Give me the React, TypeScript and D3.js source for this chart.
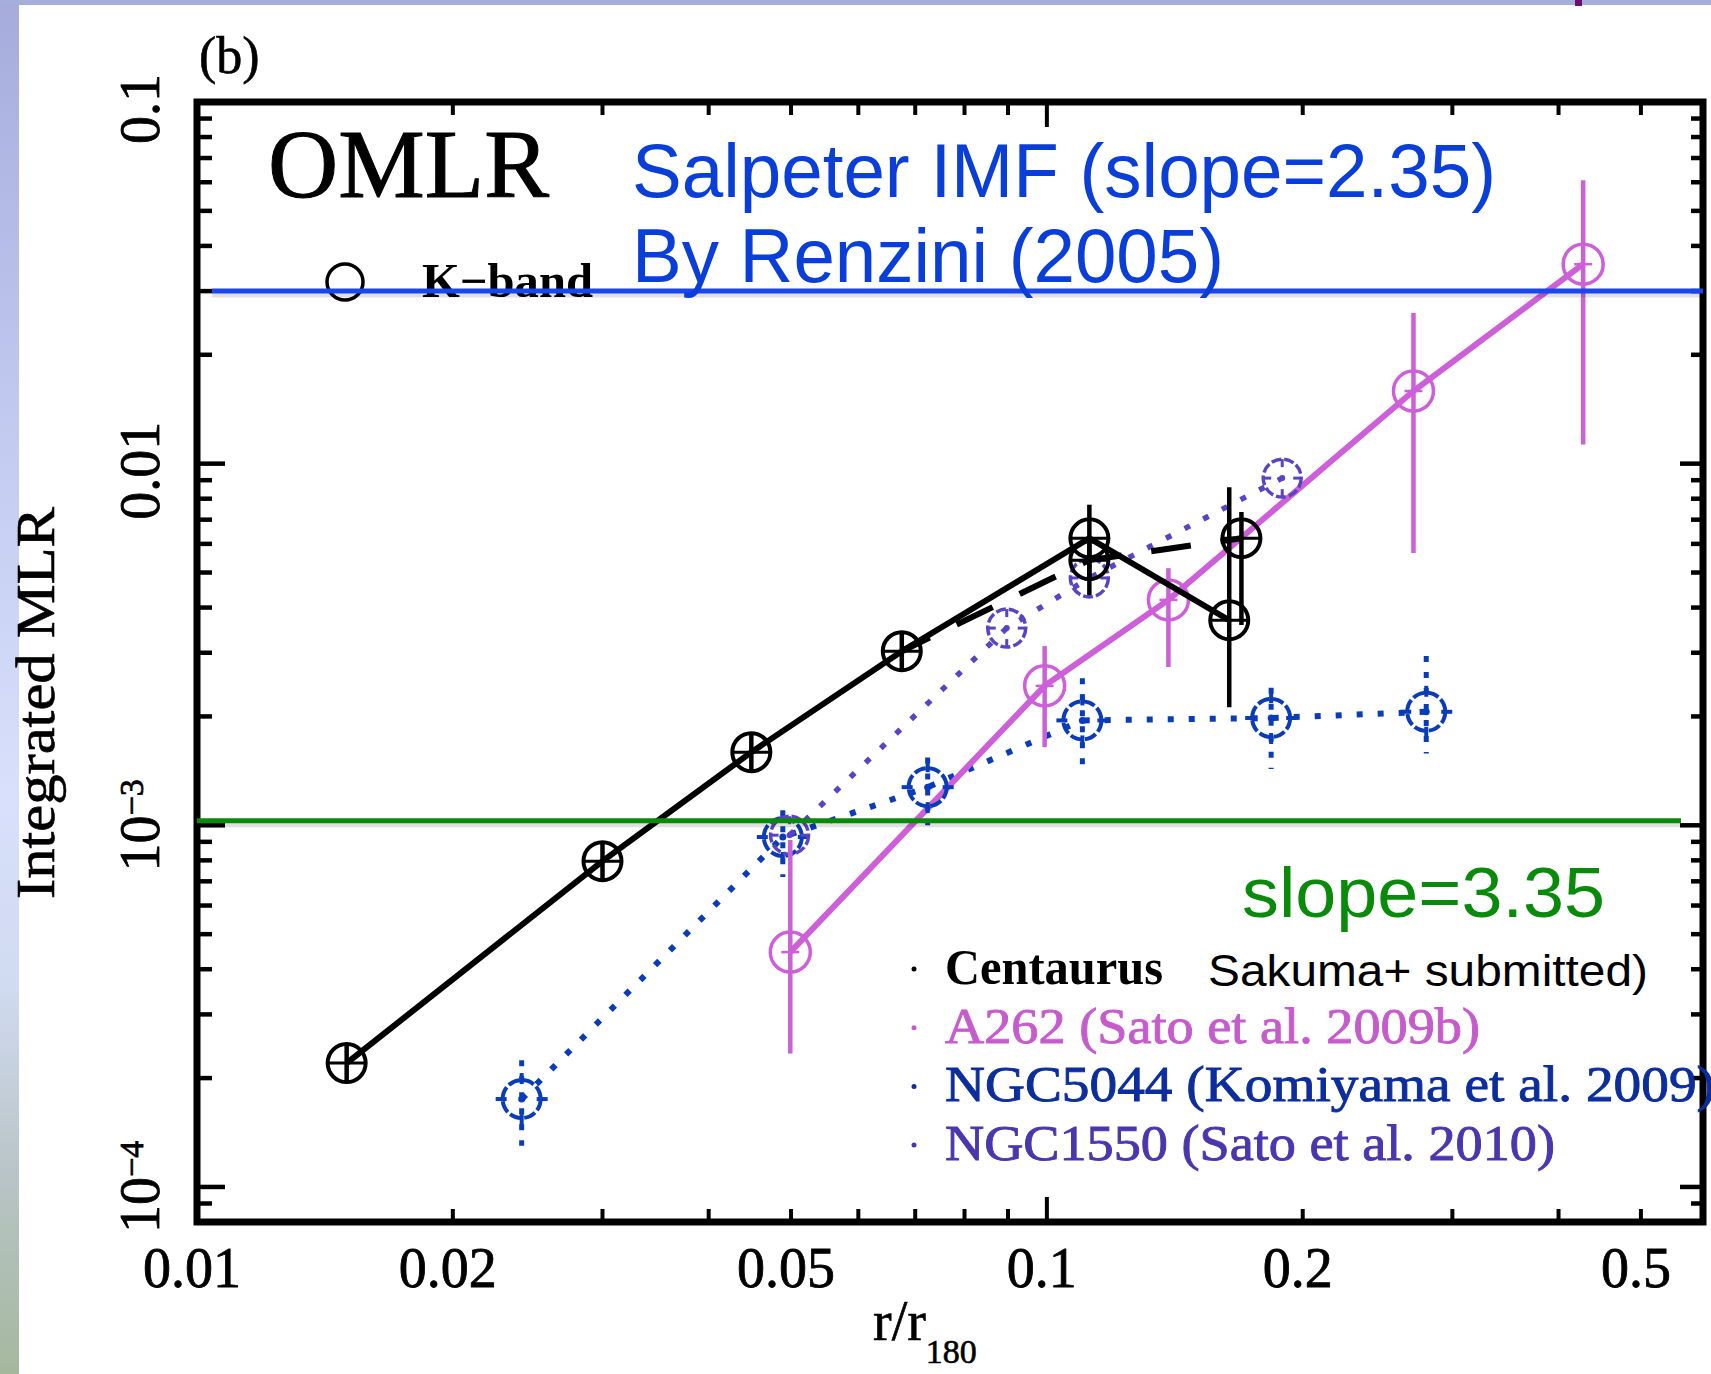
import React from "react";
import * as d3 from "d3";

// ---------- axes ----------
const X_DOMAIN = [0.01, 0.5916];
const Y_DOMAIN = [8e-5, 0.1];
const xTickValues = [0.01, 0.02, 0.05, 0.1, 0.2, 0.5];
const xTickLabels = ["0.01", "0.02", "0.05", "0.1", "0.2", "0.5"];
const yTickValues = [0.1, 0.01, 0.001, 0.0001];
const yTickLabels = ["0.1", "0.01", "10^−3", "10^−4"];

// ---------- Centaurus (solid, K-band) ----------
const cenX = [0.015, 0.03, 0.0449, 0.0675, 0.1122, 0.1639];
const cenY = [2.2e-4, 7.96e-4, 1.593e-3, 3.03e-3, 6.22e-3, 3.69e-3];
const cenLo = [1.96e-4, 7.1e-4, 1.42e-3, 2.7e-3, 4.33e-3, 2.12e-3];
const cenHi = [2.47e-4, 8.9e-4, 1.78e-3, 3.4e-3, 7.7e-3, 8.6e-3];

// ---------- Centaurus (second profile, dashed) ----------
const cen2X = [0.0675, 0.1122, 0.1694];
const cen2Y = [3.03e-3, 5.41e-3, 6.22e-3];
const cen2Lo = [3.03e-3, 5.2e-3, 3.58e-3];
const cen2Hi = [3.03e-3, 5.6e-3, 7.35e-3];

// ---------- A262 ----------
const a262X = [0.0499, 0.0994, 0.139, 0.27, 0.4276];
const a262Y = [4.46e-4, 2.43e-3, 4.2e-3, 0.01588, 0.0356];
const a262Lo = [2.34e-4, 1.645e-3, 2.74e-3, 5.66e-3, 0.0113];
const a262Hi = [9.1e-4, 3.13e-3, 5.14e-3, 0.0261, 0.0608];

// ---------- NGC5044 ----------
const n5044X = [0.0241, 0.0489, 0.0724, 0.1101, 0.1836, 0.2795];
const n5044Y = [1.75e-4, 9.28e-4, 1.275e-3, 1.95e-3, 1.98e-3, 2.06e-3];
const n5044Lo = [1.3e-4, 7.19e-4, 1.0e-3, 1.43e-3, 1.43e-3, 1.58e-3];
const n5044Hi = [2.24e-4, 1.1e-3, 1.54e-3, 2.55e-3, 2.4e-3, 2.94e-3];

// ---------- NGC1550 ----------
const n1550X = [0.0498, 0.0897, 0.1122, 0.1892];
const n1550Y = [9.39e-4, 3.51e-3, 4.83e-3, 9.12e-3];

// ---------- reference levels ----------
const salpeterLevel = 0.03;
const steepLevel = 1.03e-3;

// ---------- legend ----------
const legendNames = [
  "Centaurus",
  "A262 (Sato et al. 2009b)",
  "NGC5044 (Komiyama et al. 2009)",
  "NGC1550 (Sato et al. 2010)",
];
const legendWidths = [218, 535, 770, 610];

const SERIF = '"Liberation Serif", "Times New Roman", Times, serif';
const SANS = '"Liberation Sans", Arial, Helvetica, sans-serif';
const C_PINK = "#cd5fd8";
const C_BLUE = "#0b3cb8";
const C_PURPLE = "#5a44c4";
const legendColors = ["#000000", "#c65ccc", "#0c2d9c", "#4b36ae"];

export default function App() {
  const x = d3.scaleLog().domain(X_DOMAIN).range([197, 1703]);
  const y = d3.scaleLog().domain(Y_DOMAIN).range([1222, 102]);
  const [xL, xR] = x.range();
  const [yB, yT] = y.range();
  const isMajor = (v: number) =>
    Math.abs(Math.log10(v) - Math.round(Math.log10(v))) < 1e-6;
  const line = d3
    .line<[number, number]>()
    .x((d) => x(d[0]))
    .y((d) => y(d[1]));
  const zip = (a: number[], b: number[]) =>
    a.map((v, i) => [v, b[i]] as [number, number]);

  const xt = x.ticks();
  const yt = y.ticks();

  const blackMarker = (cx: number, cy: number, lo: number, hi: number, key: string, r = 19) => (
    <g key={key}>
      <line x1={cx} x2={cx} y1={Math.min(y(hi), cy - r)} y2={Math.max(y(lo), cy + r)} stroke="#000" strokeWidth={4.5} />
      <line x1={cx - r} x2={cx + r} y1={cy} y2={cy} stroke="#000" strokeWidth={3} />
      <circle cx={cx} cy={cy} r={r} fill="none" stroke="#000" strokeWidth={4} />
    </g>
  );

  return (
    <svg
      width={1711}
      height={1374}
      style={{ position: "absolute", left: 0, top: 0, display: "block" }}
    >
      <defs>
        <linearGradient id="sideGrad" x1="0" y1="0" x2="0" y2="1">
          <stop offset="0" stopColor="#a5acdb" />
          <stop offset="0.3" stopColor="#c1c9f0" />
          <stop offset="0.58" stopColor="#d8e0fb" />
          <stop offset="0.72" stopColor="#d0daf0" />
          <stop offset="0.85" stopColor="#b9c5c8" />
          <stop offset="1" stopColor="#a5b89e" />
        </linearGradient>
      </defs>

      {/* slide background */}
      <rect x={0} y={0} width={1711} height={1374} fill="#ffffff" />
      <rect x={0} y={0} width={19} height={1374} fill="url(#sideGrad)" />
      <rect x={0} y={0} width={1711} height={5} fill="#a6aedc" />
      <rect x={1575} y={0} width={7} height={6} fill="#6b0f6e" />

      {/* ---------- series lines ---------- */}
      <path d={line(zip(n5044X, n5044Y)) || ""} fill="none" stroke={C_BLUE} strokeWidth={6} strokeDasharray="6 15" />
      <path d={line(zip(n1550X, n1550Y)) || ""} fill="none" stroke={C_PURPLE} strokeWidth={5.5} strokeDasharray="6 15" />
      <path d={line(zip(a262X, a262Y)) || ""} fill="none" stroke={C_PINK} strokeWidth={6} />

      {/* NGC5044 markers */}
      {n5044X.map((xv, i) => {
        const cx = x(xv);
        const cy = y(n5044Y[i]);
        const r = 19;
        return (
          <g key={"n5044" + i}>
            <line x1={cx} x2={cx} y1={y(n5044Hi[i])} y2={y(n5044Lo[i])} stroke={C_BLUE} strokeWidth={5} strokeDasharray="6 10" />
            <line x1={cx - r - 7} x2={cx - r + 4} y1={cy} y2={cy} stroke={C_BLUE} strokeWidth={4} />
            <line x1={cx + r - 4} x2={cx + r + 7} y1={cy} y2={cy} stroke={C_BLUE} strokeWidth={4} />
            <line x1={cx} x2={cx} y1={cy - r - 7} y2={cy - r + 4} stroke={C_BLUE} strokeWidth={4} />
            <line x1={cx} x2={cx} y1={cy + r - 4} y2={cy + r + 7} stroke={C_BLUE} strokeWidth={4} />
            <circle cx={cx} cy={cy} r={r} fill="none" stroke={C_BLUE} strokeWidth={4} strokeDasharray="12 3" />
            <circle cx={cx} cy={cy} r={3.5} fill={C_BLUE} />
          </g>
        );
      })}

      {/* NGC1550 markers */}
      {n1550X.map((xv, i) => {
        const cx = x(xv);
        const cy = y(n1550Y[i]);
        const r = 19;
        return (
          <g key={"n1550" + i}>
            <line x1={cx} x2={cx} y1={cy - r} y2={cy - r + 8} stroke={C_PURPLE} strokeWidth={3} />
            <line x1={cx} x2={cx} y1={cy + r - 8} y2={cy + r} stroke={C_PURPLE} strokeWidth={3} />
            <line x1={cx - r} x2={cx - r + 8} y1={cy} y2={cy} stroke={C_PURPLE} strokeWidth={3} />
            <line x1={cx + r - 8} x2={cx + r} y1={cy} y2={cy} stroke={C_PURPLE} strokeWidth={3} />
            <circle cx={cx} cy={cy} r={r} fill="none" stroke={C_PURPLE} strokeWidth={3.5} strokeDasharray="10 3" />
            <circle cx={cx} cy={cy} r={3} fill={C_PURPLE} />
          </g>
        );
      })}

      {/* A262 markers */}
      {a262X.map((xv, i) => {
        const cx = x(xv);
        const cy = y(a262Y[i]);
        const r = 20;
        return (
          <g key={"a262" + i}>
            <line x1={cx} x2={cx} y1={y(a262Hi[i])} y2={y(a262Lo[i])} stroke={C_PINK} strokeWidth={4.5} />
            <line x1={cx - 9} x2={cx + 9} y1={cy} y2={cy} stroke={C_PINK} strokeWidth={2.5} />
            <circle cx={cx} cy={cy} r={r} fill="none" stroke={C_PINK} strokeWidth={3.5} />
          </g>
        );
      })}

      {/* Centaurus */}
      <path d={line(zip(cen2X, cen2Y)) || ""} fill="none" stroke="#000" strokeWidth={6} strokeDasharray="40 30" strokeDashoffset={9} />
      <path d={line(zip(cenX, cenY)) || ""} fill="none" stroke="#000" strokeWidth={6} />
      {cen2X.map((xv, i) =>
        i === 0 ? null : blackMarker(x(xv), y(cen2Y[i]), cen2Lo[i], cen2Hi[i], "c2" + i)
      )}
      {cenX.map((xv, i) => blackMarker(x(xv), y(cenY[i]), cenLo[i], cenHi[i], "c" + i))}

      {/* ---------- frame & ticks ---------- */}
      <rect x={xL} y={yT} width={xR - xL} height={yB - yT} fill="none" stroke="#000" strokeWidth={7} />
      {xt.map((v, i) => {
        const px = x(v);
        const len = isMajor(v) ? 25 : 13;
        return (
          <g key={"xt" + i}>
            <line x1={px} x2={px} y1={yB} y2={yB - len} stroke="#000" strokeWidth={4} />
            <line x1={px} x2={px} y1={yT} y2={yT + len} stroke="#000" strokeWidth={4} />
          </g>
        );
      })}
      {yt.map((v, i) => {
        const py = y(v);
        const major = isMajor(v);
        return (
          <g key={"yt" + i}>
            <line x1={xL} x2={xL + (major ? 28 : 15)} y1={py} y2={py} stroke="#000" strokeWidth={4.5} />
            <line x1={xR} x2={xR - (major ? 23 : 12)} y1={py} y2={py} stroke="#000" strokeWidth={4.5} />
          </g>
        );
      })}

      {/* tick labels */}
      {xTickValues.map((v, i) => (
        <text key={"xl" + i} x={x(v) - 5} y={1287} textAnchor="middle" fontFamily={SERIF} fontSize={56} fill="#000" stroke="#000" strokeWidth={0.8}>
          {xTickLabels[i]}
        </text>
      ))}
      {yTickValues.map((v, i) => {
        const lab = yTickLabels[i];
        const parts = lab.split("^");
        const off = parts.length > 1 ? 0 : 7;
        return (
          <text
            key={"yl" + i}
            transform={`translate(159, ${y(v) + off}) rotate(-90)`}
            textAnchor="middle"
            fontFamily={SERIF}
            fontSize={56}
            fill="#000"
            stroke="#000"
            strokeWidth={0.8}
          >
            {parts.length > 1 ? (
              <>
                <tspan>{parts[0]}</tspan>
                <tspan dy={-16} fontSize={34}>{parts[1]}</tspan>
              </>
            ) : (
              lab
            )}
          </text>
        );
      })}

      {/* axis titles */}
      <text
        transform="translate(54, 703) rotate(-90)"
        textAnchor="middle"
        fontFamily={SERIF}
        fontSize={54}
        textLength={392}
        lengthAdjust="spacingAndGlyphs"
        fill="#000"
        stroke="#000"
        strokeWidth={0.6}
      >
        Integrated MLR
      </text>
      <text x={873} y={1340} fontFamily={SERIF} fontSize={56} fill="#000" stroke="#000" strokeWidth={0.6}>
        r/r
        <tspan dy={23} fontSize={34}>180</tspan>
      </text>

      {/* panel label & title */}
      <text x={199} y={73} fontFamily={SERIF} fontSize={52} fill="#000" stroke="#000" strokeWidth={0.6}>(b)</text>
      <text x={268} y={197} fontFamily={SERIF} fontSize={98} textLength={281} lengthAdjust="spacingAndGlyphs" fill="#000" stroke="#000" strokeWidth={1}>
        OMLR
      </text>

      {/* K-band legend */}
      <circle cx={345} cy={282} r={18} fill="none" stroke="#000" strokeWidth={3.5} />
      <text x={422} y={297} fontFamily={SERIF} fontWeight="bold" fontSize={48} textLength={171} lengthAdjust="spacingAndGlyphs" fill="#000">
        K−band
      </text>

      {/* series legend */}
      {legendNames.map((name, i) => {
        const by = 984 + i * 58.7;
        return (
          <g key={"lg" + i}>
            <circle cx={914} cy={by - 15} r={2.5} fill={legendColors[i]} />
            <text
              x={945}
              y={by}
              fontFamily={SERIF}
              fontSize={50}
              fontWeight={i === 0 ? "bold" : "normal"}
              textLength={legendWidths[i]}
              lengthAdjust="spacingAndGlyphs"
              fill={legendColors[i]}
              stroke={i === 0 ? "none" : legendColors[i]}
              strokeWidth={0.9}
            >
              {name}
            </text>
          </g>
        );
      })}
      <text x={1208} y={986} fontFamily={SANS} fontSize={45} textLength={440} lengthAdjust="spacingAndGlyphs" fill="#000">
        Sakuma+ submitted)
      </text>

      {/* ---------- slide overlays ---------- */}
      <line x1={212} x2={xR} y1={y(salpeterLevel) + 4} y2={y(salpeterLevel) + 4} stroke="#000" strokeOpacity={0.12} strokeWidth={5} />
      <line x1={212} x2={xR} y1={y(salpeterLevel)} y2={y(salpeterLevel)} stroke="#1a46f0" strokeWidth={5} />
      <line x1={xL} x2={1681} y1={y(steepLevel) + 4} y2={y(steepLevel) + 4} stroke="#000" strokeOpacity={0.12} strokeWidth={5} />
      <line x1={xL} x2={1681} y1={y(steepLevel)} y2={y(steepLevel)} stroke="#0a8a0a" strokeWidth={5} />

      <text x={632} y={197} fontFamily={SANS} fontSize={76} textLength={864} lengthAdjust="spacingAndGlyphs" fill="#0a3ed8">
        Salpeter IMF (slope=2.35)
      </text>
      <text x={632} y={282} fontFamily={SANS} fontSize={76} textLength={592} lengthAdjust="spacingAndGlyphs" fill="#0a3ed8">
        By Renzini (2005)
      </text>
      <text x={1242} y={917} fontFamily={SANS} fontSize={70} textLength={363} lengthAdjust="spacingAndGlyphs" fill="#0a8a0a">
        slope=3.35
      </text>
    </svg>
  );
}
